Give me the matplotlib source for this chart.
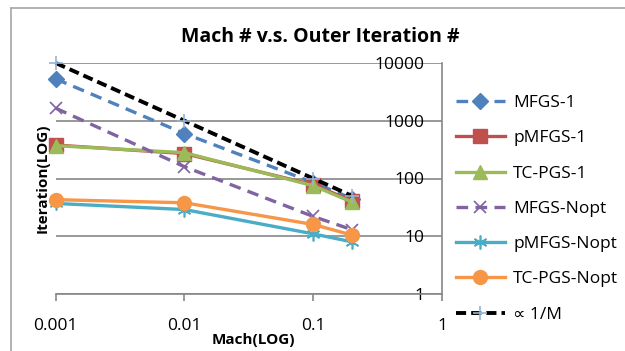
import matplotlib
matplotlib.use("Agg")
import matplotlib.pyplot as plt
from matplotlib.lines import Line2D

mach = [0.001, 0.01, 0.1, 0.2]

mfgs_1 = [5300, 600, 85, 45]
pmfgs_1 = [380, 270, 78, 41]
tcpgs_1 = [370, 280, 75, 39]
mfgs_nopt = [1650, 160, 22, 13]
pmfgs_nopt = [37, 29, 11, 8]
tcpgs_nopt = [43, 38, 16, 10.5]
inv_m = [10000, 1000, 100, 50]

labels = ["MFGS-1", "pMFGS-1", "TC-PGS-1", "MFGS-Nopt", "pMFGS-Nopt",
          "TC-PGS-Nopt", "\u221d 1/M"]
x_ticks = [0.001, 0.01, 0.1, 1]
x_tick_labels = ["0.001", "0.01", "0.1", "1"]
y_ticks = [1, 10, 100, 1000, 10000]
y_tick_labels = ["1", "10", "100", "1000", "10000"]

plt.rcParams["font.family"] = ["Open Sans", "DejaVu Sans"]

W, H = 625, 351
fig = plt.figure(figsize=(W / 100, H / 100), dpi=100)
ax = fig.add_axes([55.7 / W, 1 - 294 / H, (442 - 55.7) / W, (294 - 63) / H])

# chart border (only top and left visible)
fig.add_artist(Line2D([11 / W, 11 / W], [0, 1 - 8 / H], color="#a6a6a6", lw=1.2))
fig.add_artist(Line2D([11 / W, 1], [1 - 8 / H, 1 - 8 / H], color="#a6a6a6", lw=1.2))

lw = 2.4
ms = 9.5
series = [
    (mfgs_1, dict(color="#4F81BD", ls=(0, (3.5, 2.2)), marker="D", ms=8.5)),
    (pmfgs_1, dict(color="#C0504D", ls="-", marker="s", ms=ms)),
    (tcpgs_1, dict(color="#9BBB59", ls="-", marker="^", ms=ms)),
    (mfgs_nopt, dict(color="#8064A2", ls=(0, (3.5, 2.2)), marker="x", ms=9,
                     mew=1.2)),
    (pmfgs_nopt, dict(color="#4BACC6", ls="-", marker=(6, 2, 0), ms=10,
                      mew=1.2)),
    (tcpgs_nopt, dict(color="#F79646", ls="-", marker="o", ms=10)),
]
handles = []
for vals, style in series:
    (h,) = ax.plot(mach, vals, lw=lw, clip_on=False, **style)
    handles.append(h)

(h,) = ax.plot(mach, inv_m, color="black", lw=2.8, ls=(0, (2.6, 1.3)),
               marker="+", ms=10, mec="#95B3D7", mew=1.2, clip_on=False)
handles.append(h)

ax.set_xscale("log")
ax.set_yscale("log")
ax.set_xlim(0.001, 1)
ax.set_ylim(1, 10000)
ax.set_xticks(x_ticks, x_tick_labels)
ax.set_yticks(y_ticks, y_tick_labels)
ax.minorticks_off()

for s in ["top", "left"]:
    ax.spines[s].set_visible(False)
for s in ["bottom", "right"]:
    ax.spines[s].set_color("#868686")
    ax.spines[s].set_linewidth(1.2)

ax.grid(axis="y", color="#868686", lw=1.2)
ax.set_axisbelow(True)

ax.yaxis.tick_right()
ax.tick_params(axis="y", length=0, pad=-13, labelsize=12.5)
for lab in ax.get_yticklabels():
    lab.set_ha("right")
ax.tick_params(axis="x", length=5, width=1.2, color="#868686", pad=12,
               labelsize=12.5)

ax.set_xlabel("Mach(LOG)", fontsize=11, fontweight="bold")
ax.xaxis.set_label_coords(0.513, -0.17)
ax.set_ylabel("Iteration(LOG)", fontsize=11, fontweight="bold")
ax.yaxis.set_label_position("left")
ax.yaxis.set_label_coords(-0.016, 0.5)

fig.text(320 / W, 1 - 37 / H, "Mach # v.s. Outer Iteration #", fontsize=14,
         fontweight="bold", ha="center", va="center")

fig.legend(handles, labels, loc="upper left",
           bbox_to_anchor=(449 / W, 1 - 88 / H), frameon=False,
           fontsize=12.5, handlelength=2.8, handletextpad=0.5,
           labelspacing=1.1, borderaxespad=0)

fig.savefig("out.png", dpi=100)
